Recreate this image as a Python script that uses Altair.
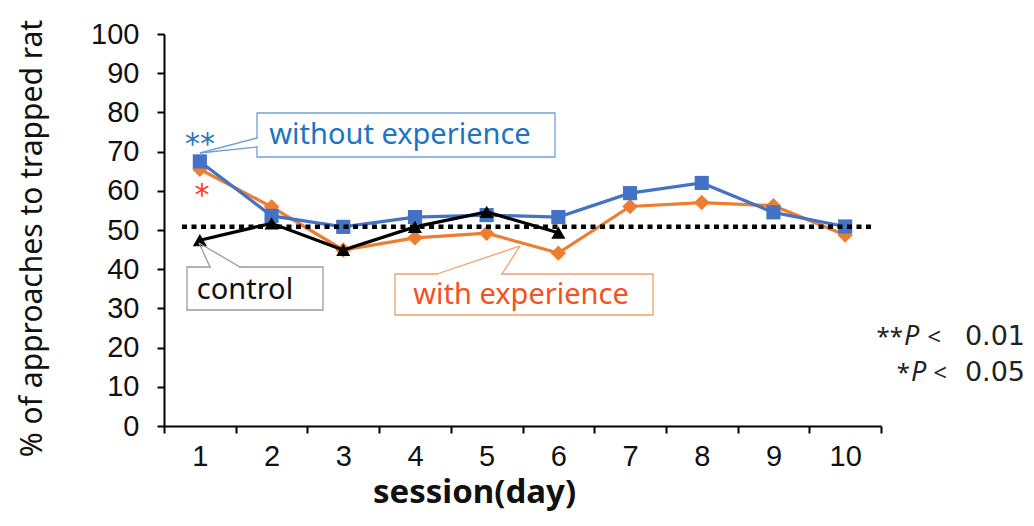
import altair as alt
import pandas as pd

# ---------------- data ----------------
sessions = [1, 2, 3, 4, 5, 6, 7, 8, 9, 10]
without_exp = [67.5, 53.6, 50.8, 53.3, 53.8, 53.3, 59.4, 62.0, 54.5, 50.9]
with_exp = [65.5, 55.9, 44.9, 48.0, 49.2, 44.1, 56.0, 57.0, 56.2, 48.7]
control_sessions = [1, 2, 3, 4, 5, 6]
control = [47.4, 51.7, 44.9, 50.8, 54.6, 49.3]
chance_level = [50.8]
y_ticks = [0, 10, 20, 30, 40, 50, 60, 70, 80, 90, 100]
# tick marks sit on the category boundaries
x_ticks = [0.5, 1.5, 2.5, 3.5, 4.5, 5.5, 6.5, 7.5, 8.5, 9.5, 10.5]

df_without = pd.DataFrame({"session": sessions, "value": without_exp})
df_with = pd.DataFrame({"session": sessions, "value": with_exp})
df_control = pd.DataFrame({"session": control_sessions, "value": control})
df_chance = pd.DataFrame({"value": chance_level})

# ---------------- layout ----------------
W, H = 717, 392
OX, OY = 164, 34  # page position of plot origin
HALF_BAND = W / 10 / 2


def px(x):
    return x - OX


def py(y):
    return y - OY


LABEL_FONT = "Liberation Sans"
TEXT_FONT = "Noto Sans"

xs = alt.Scale(domain=[0.5, 10.5], nice=False, zero=False)
ys = alt.Scale(domain=[0, 100], nice=False)

x_axis = alt.Axis(
    values=x_ticks,
    labelExpr="datum.value < 10 ? format(datum.value + 0.5, 'd') : ''",
    labelOffset=HALF_BAND,
    title="session(day)",
    titleFont=TEXT_FONT,
    titleFontSize=33,
    titleFontWeight="bold",
    titleColor="#111111",
    titleX=px(474),
    titleY=502 - 426,
    titleBaseline="alphabetic",
    titleAlign="center",
    labelFont=LABEL_FONT,
    labelFontSize=29,
    labelColor="#111111",
    labelPadding=9,
    labelFlush=False,
    labelBound=False,
    labelOverlap=False,
    grid=False,
    domainColor="#000000",
    domainWidth=2,
    tickColor="#000000",
    tickWidth=2,
    tickSize=7,
)

y_axis = alt.Axis(
    values=y_ticks,
    title="% of approaches to trapped rat",
    titleFont=TEXT_FONT,
    titleFontSize=30,
    titleFontWeight="normal",
    titleColor="#111111",
    titleAngle=270,
    titleX=px(41),
    titleY=py(238),
    titleBaseline="alphabetic",
    titleAlign="center",
    labelFont=LABEL_FONT,
    labelFontSize=29,
    labelColor="#111111",
    labelPadding=18,
    grid=False,
    domainColor="#000000",
    domainWidth=2,
    tickColor="#000000",
    tickWidth=2,
    tickSize=7,
)

X = alt.X("session:Q", scale=xs, axis=x_axis)
Y = alt.Y("value:Q", scale=ys, axis=y_axis)

BLUE = "#4472C4"
ORANGE = "#ED7D31"
BLACK = "#000000"


def series(df, color, shape, size):
    line = alt.Chart(df).mark_line(color=color, strokeWidth=3.2).encode(x=X, y=Y)
    pts = alt.Chart(df).mark_point(
        shape=shape, filled=True, color=color, size=size, opacity=1
    ).encode(x=X, y=Y)
    return [line, pts]


layers = []
layers += series(df_with, ORANGE, "diamond", 240)
layers += series(df_without, BLUE, "square", 200)
layers += series(df_control, BLACK, "triangle-up", 200)

# chance-level dotted line
layers.append(
    alt.Chart(df_chance)
    .mark_rule(color=BLACK, strokeWidth=4.5, strokeDash=[5, 4.5])
    .encode(x=alt.value(px(182)), x2=alt.value(px(874)), y=Y)
)

one = alt.Data(values=[{}])


def rect(x1, y1, x2, y2, stroke):
    return alt.Chart(one).mark_rect(fill="white", stroke=stroke, strokeWidth=1.3).encode(
        x=alt.value(px(x1)), x2=alt.value(px(x2)), y=alt.value(py(y1)), y2=alt.value(py(y2))
    )


def seg(x1, y1, x2, y2, color, width=1.3):
    return alt.Chart(one).mark_rule(color=color, strokeWidth=width).encode(
        x=alt.value(px(x1)), x2=alt.value(px(x2)), y=alt.value(py(y1)), y2=alt.value(py(y2))
    )


def text(t, x, y, color, size, align="center", baseline="middle", font=TEXT_FONT,
         style="normal", weight="normal"):
    return alt.Chart(one).mark_text(
        text=t, align=align, baseline=baseline, font=font, fontSize=size, color=color,
        fontStyle=style, fontWeight=weight,
    ).encode(x=alt.value(px(x)), y=alt.value(py(y)))


# callout: without experience
BOX_BLUE = "#6FA0D8"
layers += [
    rect(257, 113, 555, 157, BOX_BLUE),
    seg(257, 139, 257, 146, "white", 2.5),
    seg(200, 153, 257, 138, BOX_BLUE),
    seg(200, 153, 257, 147, BOX_BLUE),
    text("without experience", 400, 135, "#1F74C2", 29),
]

# callout: control
BOX_GRAY = "#9A9A9A"
layers += [
    rect(187, 267, 323, 310, BOX_GRAY),
    seg(211, 267, 239, 267, "white", 2.5),
    seg(199, 243, 210, 267, BOX_GRAY),
    seg(199, 243, 240, 267, BOX_GRAY),
    text("control", 245, 290, "#111111", 29),
]

# callout: with experience
BOX_ORANGE = "#F0A066"
layers += [
    rect(395, 274, 653, 315, BOX_ORANGE),
    seg(438, 274, 501, 274, "white", 2.5),
    seg(520, 246, 437, 274, BOX_ORANGE),
    seg(520, 246, 502, 274, BOX_ORANGE),
    text("with experience", 521, 295, "#F4511E", 29),
]

# significance asterisks
layers += [
    text("**", 200, 154, "#2E75B6", 30, baseline="alphabetic", font="DejaVu Sans"),
    text("*", 202, 205, "#FF3C1E", 30, baseline="alphabetic", font="DejaVu Sans"),
]

# p-value legend
PCOL = "#222222"
layers += [
    text("**", 903, 345, PCOL, 24, align="right", baseline="alphabetic"),
    text("P", 904, 345, PCOL, 27, align="left", baseline="alphabetic", style="italic"),
    text("<", 934, 345, PCOL, 24, baseline="alphabetic"),
    text("0.01", 1025, 345, PCOL, 27, align="right", baseline="alphabetic", font="DejaVu Sans"),
    text("*", 910, 381, PCOL, 24, align="right", baseline="alphabetic"),
    text("P", 911, 381, PCOL, 27, align="left", baseline="alphabetic", style="italic"),
    text("<", 940, 381, PCOL, 24, baseline="alphabetic"),
    text("0.05", 1025, 381, PCOL, 27, align="right", baseline="alphabetic", font="DejaVu Sans"),
]

chart = (
    alt.layer(*layers)
    .properties(
        width=W,
        height=H,
        background="white",
        autosize=alt.AutoSizeParams(type="none"),
        padding={"left": OX - 8, "top": OY - 8, "right": 1018 - (OX - 8) - W, "bottom": 89},
    )
    .configure_view(strokeWidth=0, stroke="transparent")
)

chart.save("out.html", embed_options={"renderer": "svg", "actions": False})
